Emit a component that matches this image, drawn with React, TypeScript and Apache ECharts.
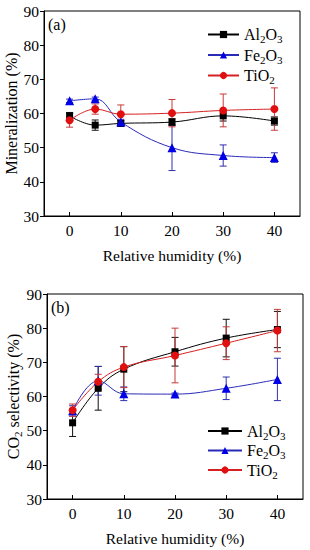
import React, { useEffect, useRef } from 'react';
import * as echarts from 'echarts';

// ---- data ----
const humidity = [0, 5, 10, 20, 30, 40];
const xTicks = [0, 10, 20, 30, 40];
const seriesNames = ['Al2O3', 'Fe2O3', 'TiO2'];

// (a) Mineralization (%)
const minAl = [59.3, 56.6, 57.1, 57.5, 59.3, 57.8];
const minAlErr = [1.0, 1.5, 0.8, 1.0, 1.5, 1.2];
const minFe = [63.7, 64.3, 57.5, 50.0, 47.7, 47.1];
const minFeErr = [0.5, 0.5, 0.8, 6.7, 3.1, 1.4];
const minTi = [58.0, 61.3, 59.8, 60.1, 60.9, 61.3];
const minTiErr = [2.0, 1.5, 2.7, 4.0, 4.8, 6.2];

// (b) CO2 selectivity (%)
const selAl = [52.3, 62.4, 68.0, 73.1, 77.1, 79.6];
const selAlErr = [4.0, 6.4, 6.6, 4.2, 5.5, 5.3];
const selFe = [55.8, 64.6, 60.8, 60.7, 62.4, 65.0];
const selFeErr = [1.5, 4.2, 2.0, 0.3, 3.3, 6.2];
const selTi = [56.0, 64.3, 68.6, 72.0, 75.6, 79.3];
const selTiErr = [1.8, 2.2, 6.0, 8.0, 4.8, 6.2];

const FONT = 'Liberation Serif';

const colors: Record<string, { line: string; fill: string; err: string; symbol: string; size: number }> = {
  Al2O3: { line: '#000000', fill: '#000000', err: '#111111', symbol: 'rect', size: 7 },
  Fe2O3: { line: '#2a2ab8', fill: '#0000e6', err: '#3030b0', symbol: 'triangle', size: 9 },
  TiO2: { line: '#d42020', fill: '#e01010', err: '#c83a3a', symbol: 'circle', size: 8 },
};

const rich: any = {
  n: { fontFamily: FONT, fontSize: 16, color: '#000', lineHeight: 20 },
  s: { fontFamily: FONT, fontSize: 11, color: '#000', lineHeight: 10, verticalAlign: 'bottom' },
};

const legendLabel: Record<string, string> = {
  Al2O3: '{n|Al}{s|2}{n|O}{s|3}',
  Fe2O3: '{n|Fe}{s|2}{n|O}{s|3}',
  TiO2: '{n|TiO}{s|2}',
};

function pairs(xs: number[], ys: number[]) {
  return xs.map((x, i) => [x, ys[i]]);
}
function triples(xs: number[], ys: number[], es: number[]) {
  return xs.map((x, i) => [x, ys[i], es[i]]);
}

function errorSeries(name: string, idx: number, ys: number[], es: number[]) {
  const c = colors[name].err;
  return {
    type: 'custom',
    name: name + '-err-' + idx,
    xAxisIndex: idx,
    yAxisIndex: idx,
    z: 1,
    silent: true,
    data: triples(humidity, ys, es),
    encode: { x: 0, y: 1 },
    renderItem: (params: any, api: any) => {
      const x = api.value(0);
      const y = api.value(1);
      const e = api.value(2);
      const hi = api.coord([x, y + e]);
      const lo = api.coord([x, y - e]);
      const w = 3.5;
      const st = { stroke: c, lineWidth: 1 };
      return {
        type: 'group',
        children: [
          { type: 'line', shape: { x1: hi[0], y1: hi[1], x2: lo[0], y2: lo[1] }, style: st },
          { type: 'line', shape: { x1: hi[0] - w, y1: hi[1], x2: hi[0] + w, y2: hi[1] }, style: st },
          { type: 'line', shape: { x1: lo[0] - w, y1: lo[1], x2: lo[0] + w, y2: lo[1] }, style: st },
        ],
      };
    },
  };
}

function lineSeries(name: string, idx: number, ys: number[]) {
  const c = colors[name];
  return {
    type: 'line',
    name,
    xAxisIndex: idx,
    yAxisIndex: idx,
    z: 3,
    data: pairs(humidity, ys),
    smooth: 0.4,
    symbol: c.symbol,
    symbolSize: c.size,
    itemStyle: { color: c.fill },
    lineStyle: { color: c.line, width: 1 },
  };
}

function xAxis(idx: number) {
  return {
    type: 'value',
    gridIndex: idx,
    min: -5,
    max: 45,
    axisLine: { show: true, onZero: false, lineStyle: { color: '#000', width: 1 } },
    axisTick: { show: true, inside: true, length: 4, customValues: xTicks, lineStyle: { color: '#000' } },
    axisLabel: { customValues: xTicks, fontFamily: FONT, fontSize: 15.5, color: '#000', margin: 6 },
    splitLine: { show: false },
    name: 'Relative humidity (%)',
    nameLocation: 'middle',
    nameGap: 31,
    nameMoveOverlap: false,
    nameTextStyle: { fontFamily: FONT, fontSize: 15.5, color: '#000' },
  };
}

function yAxis(idx: number, name: string, gap: number) {
  return {
    type: 'value',
    gridIndex: idx,
    min: 30,
    max: 90,
    interval: 10,
    axisLine: { show: true, onZero: false, lineStyle: { color: '#000', width: 1 } },
    axisTick: { show: true, inside: false, length: 4, lineStyle: { color: '#000' } },
    axisLabel: { fontFamily: FONT, fontSize: 15.5, color: '#000', margin: 5 },
    splitLine: { show: false },
    name,
    nameLocation: 'middle',
    nameGap: gap,
    nameMoveOverlap: false,
    nameTextStyle: { fontFamily: FONT, fontSize: 16, color: '#000', rich },
  };
}

function legend(idx: number, top: number, gap: number, width: number) {
  return {
    data: seriesNames,
    orient: 'vertical',
    left: 202,
    top,
    itemWidth: width,
    itemHeight: 9,
    itemGap: gap,
    selectedMode: false,
    formatter: (n: string) => legendLabel[n],
    textStyle: { fontFamily: FONT, fontSize: 16, color: '#000', rich },
  };
}

export default function App() {
  const ref = useRef<HTMLDivElement>(null);
  useEffect(() => {
    document.body.style.margin = '0';
    if (!ref.current) return;
    const chart = echarts.init(ref.current, undefined, { renderer: 'svg' });
    chart.setOption({
      animation: false,
      backgroundColor: '#fff',
      textStyle: { fontFamily: FONT },
      grid: [
        { left: 44, top: 11, width: 256, height: 205, show: true, borderColor: '#000', borderWidth: 1, containLabel: false, outerBoundsMode: 'none' },
        { left: 47, top: 294, width: 256, height: 205, show: true, borderColor: '#000', borderWidth: 1, containLabel: false, outerBoundsMode: 'none' },
      ],
      xAxis: [xAxis(0), xAxis(1)],
      yAxis: [
        yAxis(0, '{n|Mineralization (%)}', 23),
        yAxis(1, '{n|CO}{s|2}{n| selectivity (%)}', 24),
      ],
      legend: [legend(0, 21.5, 2.5, 31), legend(1, 418, 1.5, 34)],
      graphic: [
        { type: 'text', left: 48, top: 16, style: { text: '(a)', fontFamily: FONT, fontSize: 16, fill: '#000' } },
        { type: 'text', left: 51, top: 299, style: { text: '(b)', fontFamily: FONT, fontSize: 16, fill: '#000' } },
      ],
      series: [
        errorSeries('Al2O3', 0, minAl, minAlErr),
        errorSeries('Fe2O3', 0, minFe, minFeErr),
        errorSeries('TiO2', 0, minTi, minTiErr),
        lineSeries('Al2O3', 0, minAl),
        lineSeries('Fe2O3', 0, minFe),
        lineSeries('TiO2', 0, minTi),
        errorSeries('Al2O3', 1, selAl, selAlErr),
        errorSeries('Fe2O3', 1, selFe, selFeErr),
        errorSeries('TiO2', 1, selTi, selTiErr),
        lineSeries('Al2O3', 1, selAl),
        lineSeries('Fe2O3', 1, selFe),
        lineSeries('TiO2', 1, selTi),
      ],
    });
    return () => chart.dispose();
  }, []);
  return <div ref={ref} style={{ width: 310, height: 550 }} />;
}
